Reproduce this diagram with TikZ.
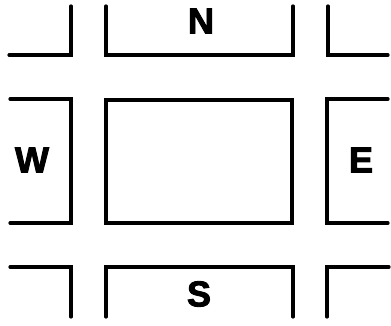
\documentclass[tikz,border=0pt]{standalone}
\usepackage{fontspec}
\setmainfont{Liberation Sans}
\newfontfamily\heavyfont{Liberation Sans}[BoldFeatures={FakeBold=2.5}]
\begin{document}
\begin{tikzpicture}[x=1pt,y=-1pt,
  wall/.style={line width=3.2pt,line join=miter,line cap=round},
  lbl/.style={font=\heavyfont\fontsize{36}{36}\selectfont\bfseries,inner sep=0pt}]
\useasboundingbox (0,0) rectangle (391,326);
% top row
\draw[wall] (9,55) -- (71,55) -- (71,6);
\draw[wall] (106,6) -- (106,55) -- (293,55) -- (293,6);
\draw[wall] (328,6) -- (328,55) -- (388,55);
% middle row
\draw[wall] (10,99) -- (71,99) -- (71,223) -- (10,223);
\draw[wall] (106,100) rectangle (292,223);
\draw[wall] (388,99) -- (327,99) -- (327,223) -- (388,223);
% bottom row
\draw[wall] (10,267) -- (71,267) -- (71,317);
\draw[wall] (106,317) -- (106,267) -- (293,267) -- (293,317);
\draw[wall] (327,317) -- (327,267) -- (389,267);
% labels
\node[lbl] (n) at (201,21) {N};
\node[lbl] (w) at (32,160) {W};
\node[lbl] (e) at (361,160) {E};
\node[lbl] (s) at (199,294) {S};
\end{tikzpicture}
\end{document}
